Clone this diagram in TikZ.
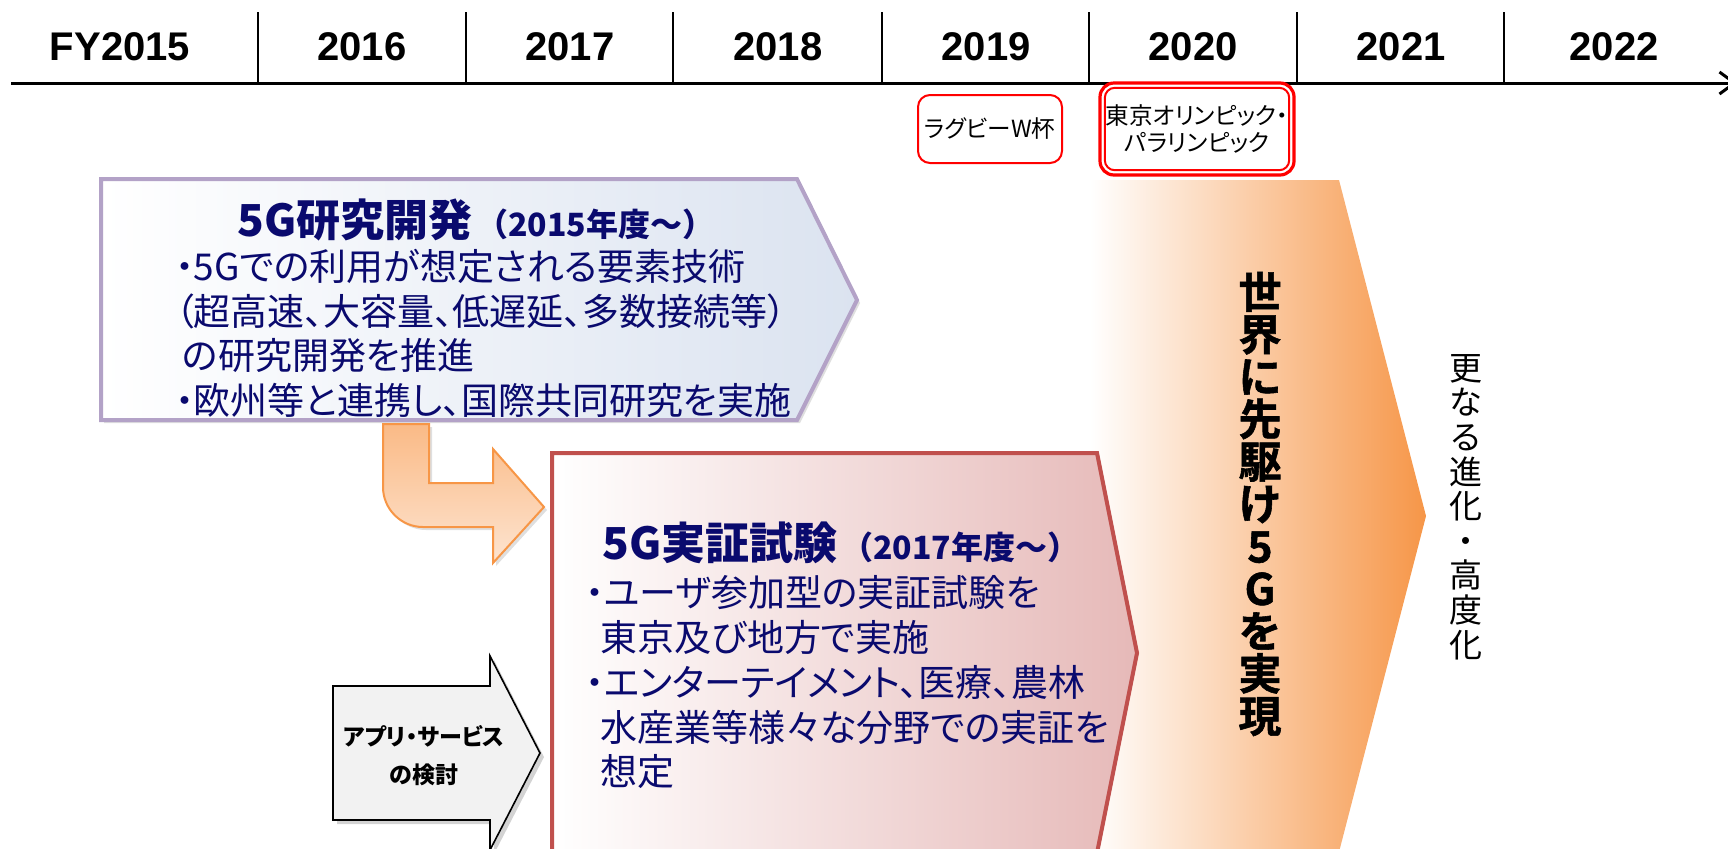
\documentclass[tikz,border=0pt]{standalone}
\usepackage{fontspec}
\setmainfont{Liberation Sans}
\newfontfamily\jp[RawFeature={+palt}]{Noto Sans CJK JP}
\newfontfamily\jpv{Noto Sans CJK JP}
\newfontfamily\jpheavy[UprightFont={* Bold}, FakeBold=1.3]{Noto Sans CJK JP}
\usetikzlibrary{arrows.meta,shadows}
\definecolor{navy}{RGB}{10,10,110}
\definecolor{bluebd}{RGB}{179,162,199}
\definecolor{bluefl}{RGB}{219,227,240}
\definecolor{redbd}{RGB}{192,80,77}
\definecolor{redfl}{RGB}{230,185,184}
\definecolor{orbd}{RGB}{247,150,70}
\definecolor{ortop}{RGB}{250,186,134}
\definecolor{orbot}{RGB}{253,228,208}
\definecolor{bigor}{RGB}{246,150,72}
\definecolor{grayfl}{RGB}{242,242,242}
\definecolor{evred}{RGB}{255,0,0}
\begin{document}
\begin{tikzpicture}[x=0.5pt,y=-0.5pt,
  yearlbl/.style={inner sep=0, font=\bfseries\fontsize{20}{24}\selectfont},
  divider/.style={line width=1.1pt},
  evbox/.style={draw=evred, fill=white, rounded corners=6pt, inner sep=0, align=center},
  bodyline/.style={anchor=west, inner sep=0, text=navy, font=\jp\fontsize{18.5}{22}\selectfont},
  titleline/.style={anchor=west, inner sep=0, text=navy, font=\jp\bfseries},
  softshadow/.style={drop shadow={shadow xshift=1.5pt, shadow yshift=-1.5pt, opacity=0.25}},
]
\useasboundingbox (0,0) rectangle (1728,848);
\begin{scope}
\clip (0,0) rectangle (1728,848);
% big orange chevron
\path[left color=white, right color=bigor] (1090,180) -- (1339,180) -- (1426,516) -- (1339,852) -- (1090,852) -- cycle;
% blue box
\path[softshadow, draw=bluebd, line width=2pt, left color=white, right color=bluefl]
  (101,179) -- (797,179) -- (857,300) -- (797,420) -- (101,420) -- cycle;
% bent orange arrow
\path[softshadow, draw=orbd, line width=1pt, top color=ortop, bottom color=orbot]
  (383,424) -- (429,424) -- (429,483) -- (493,483) -- (493,449) -- (544,507) -- (493,563)
  -- (493,527) -- (423,527) .. controls (401,527) and (383,509) .. (383,487) -- cycle;
% red box
\path[draw=redbd, line width=2pt, left color=white, right color=redfl]
  (552,453) -- (1097,453) -- (1137,653) -- (1097,853) -- (552,853) -- cycle;
% gray arrow
\path[drop shadow={shadow xshift=2pt, shadow yshift=-2pt, opacity=0.35}, draw=black, line width=0.8pt, fill=grayfl]
  (333,686) -- (490,686) -- (490,656) -- (540,753) -- (490,850) -- (490,820) -- (333,820) -- cycle;
\end{scope}

% timeline
\coordinate (tlA) at (11,83);
\coordinate (tlB) at (1737,83);
\begin{scope}
\clip (0,0) rectangle (1728,848);
\draw[line width=1.5pt, -{Straight Barb[length=7.5pt,width=11pt,line width=1.5pt]}] (tlA) -- (tlB);
\end{scope}
\foreach \x in {258,466,673,882,1089,1297,1504} \draw[divider] (\x,12) -- (\x,82);
\node[yearlbl] (y15) at (120,47) {FY2015};
\node[yearlbl] (y16) at (362,47) {2016};
\node[yearlbl] (y17) at (570,47) {2017};
\node[yearlbl] (y18) at (778,47) {2018};
\node[yearlbl] (y19) at (986,47) {2019};
\node[yearlbl] (y20) at (1193,47) {2020};
\node[yearlbl] (y21) at (1401,47) {2021};
\node[yearlbl] (y22) at (1614,47) {2022};

% events
\node[evbox, line width=1pt, minimum width=72pt, minimum height=34pt,
  font=\jp\fontsize{11.8}{13}\selectfont] (rugby) at (990,129) {ラグビーW杯};
\node[evbox, line width=1.6pt, rounded corners=7pt, minimum width=97pt, minimum height=46pt,
  font=\jp\fontsize{11.8}{13.2}\selectfont] (tokyo) at (1197,129) {東京オリンピック・\\パラリンピック};
\draw[evred, line width=1pt, rounded corners=5pt] ([xshift=3.2pt,yshift=-3.2pt]tokyo.north west) rectangle ([xshift=-3.2pt,yshift=3.2pt]tokyo.south east);

% blue box text
\node[titleline] (btitle) at (237,220) {{\fontsize{22}{26}\selectfont 5G研究開発}\hspace{2pt}{\jpv\bfseries\fontsize{16}{18}\selectfont（2015年度～）}};
\node[bodyline] (b1) at (175,266) {・5Gでの利用が想定される要素技術};
\node[bodyline] (b2) at (175,311) {（超高速、大容量、低遅延、多数接続等）};
\node[bodyline] (b3) at (182,355) {の研究開発を推進};
\node[bodyline] (b4) at (175,400) {・欧州等と連携し、国際共同研究を実施};

% red box text
\node[titleline] (rtitle) at (602,543) {{\fontsize{22}{26}\selectfont 5G実証試験}\hspace{2pt}{\jpv\bfseries\fontsize{16}{18}\selectfont（2017年度～）}};
\node[bodyline] (r1) at (585,593) {・ユーザ参加型の実証試験を};
\node[bodyline] (r2) at (600,637) {東京及び地方で実施};
\node[bodyline] (r3) at (585,682) {・エンターテイメント、医療、農林};
\node[bodyline] (r4) at (600,727) {水産業等様々な分野での実証を};
\node[bodyline] (r5) at (600,772) {想定};

% gray arrow text
\node[inner sep=0, align=center, font=\jp\bfseries\fontsize{11.5}{19}\selectfont] (app) at (424,756) {アプリ・サービス\\の検討};

% vertical texts
\node[inner sep=0, align=center, execute at begin node={\lineskiplimit=-30pt},
  font=\jpheavy\fontsize{21.5}{21.2}\selectfont] (world) at (1260,504)
  {世\\界\\に\\先\\駆\\け\\5\\G\\を\\実\\現};
\node[inner sep=0, align=center, execute at begin node={\lineskiplimit=-30pt},
  font=\jpv\fontsize{16.5}{17.3}\selectfont] (further) at (1466,507)
  {更\\な\\る\\進\\化\\・\\高\\度\\化};
\end{tikzpicture}
\end{document}
